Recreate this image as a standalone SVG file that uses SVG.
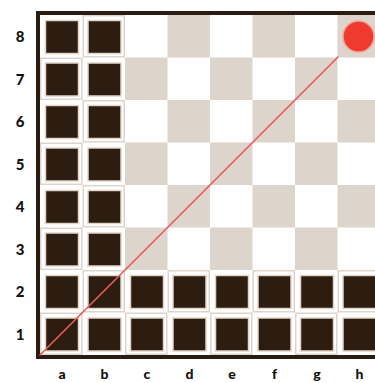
<svg xmlns="http://www.w3.org/2000/svg" xmlns:xlink="http://www.w3.org/1999/xlink" width="375" height="383" viewBox="0 0 375 383">
<style>
.pad{fill:#ffffff}
.pc{fill:#2d1c10;stroke:#e2d5c8;stroke-width:1.5}
.lbl{font-family:Lato,"DejaVu Sans",sans-serif;font-weight:900;font-size:15px;fill:#15110e;text-anchor:middle}
.flbl{font-family:Lato,"DejaVu Sans",sans-serif;font-weight:900;font-size:14px;fill:#15110e;text-anchor:middle}
</style>
<defs>
<pattern id="checker" patternUnits="userSpaceOnUse" x="40" y="15" width="85" height="85">
<rect x="0" y="0" width="85" height="85" fill="#ffffff"/>
<rect x="42.5" y="0" width="42.5" height="42.5" fill="#ddd4cb"/>
<rect x="0" y="42.5" width="42.5" height="42.5" fill="#ddd4cb"/>
</pattern>
<g id="pieceShape">
<rect class="pad" x="1.5" y="1.5" width="39.5" height="39.5"/>
<rect class="pc" x="5.5" y="5.5" width="33" height="33"/>
</g>
</defs>
<rect width="375" height="383" fill="#ffffff"/>
<g id="board">
<rect x="40" y="15" width="340" height="340" fill="url(#checker)"/>
<rect x="38" y="13" width="344" height="344" fill="none" stroke="#2a1c12" stroke-width="4"/>
</g>
<g id="pieces">
<g id="a8"><use xlink:href="#pieceShape" x="40" y="15"/></g>
<g id="a7"><use xlink:href="#pieceShape" x="40" y="57.5"/></g>
<g id="a6"><use xlink:href="#pieceShape" x="40" y="100"/></g>
<g id="a5"><use xlink:href="#pieceShape" x="40" y="142.5"/></g>
<g id="a4"><use xlink:href="#pieceShape" x="40" y="185"/></g>
<g id="a3"><use xlink:href="#pieceShape" x="40" y="227.5"/></g>
<g id="a2"><use xlink:href="#pieceShape" x="40" y="270"/></g>
<g id="a1"><use xlink:href="#pieceShape" x="40" y="312.5"/></g>
<g id="b8"><use xlink:href="#pieceShape" x="82.5" y="15"/></g>
<g id="b7"><use xlink:href="#pieceShape" x="82.5" y="57.5"/></g>
<g id="b6"><use xlink:href="#pieceShape" x="82.5" y="100"/></g>
<g id="b5"><use xlink:href="#pieceShape" x="82.5" y="142.5"/></g>
<g id="b4"><use xlink:href="#pieceShape" x="82.5" y="185"/></g>
<g id="b3"><use xlink:href="#pieceShape" x="82.5" y="227.5"/></g>
<g id="b2"><use xlink:href="#pieceShape" x="82.5" y="270"/></g>
<g id="b1"><use xlink:href="#pieceShape" x="82.5" y="312.5"/></g>
<g id="c2"><use xlink:href="#pieceShape" x="125" y="270"/></g>
<g id="c1"><use xlink:href="#pieceShape" x="125" y="312.5"/></g>
<g id="d2"><use xlink:href="#pieceShape" x="167.5" y="270"/></g>
<g id="d1"><use xlink:href="#pieceShape" x="167.5" y="312.5"/></g>
<g id="e2"><use xlink:href="#pieceShape" x="210" y="270"/></g>
<g id="e1"><use xlink:href="#pieceShape" x="210" y="312.5"/></g>
<g id="f2"><use xlink:href="#pieceShape" x="252.5" y="270"/></g>
<g id="f1"><use xlink:href="#pieceShape" x="252.5" y="312.5"/></g>
<g id="g2"><use xlink:href="#pieceShape" x="295" y="270"/></g>
<g id="g1"><use xlink:href="#pieceShape" x="295" y="312.5"/></g>
<g id="h2"><use xlink:href="#pieceShape" x="337.5" y="270"/></g>
<g id="h1"><use xlink:href="#pieceShape" x="337.5" y="312.5"/></g>
</g>
<g id="connectors">
<line x1="40" y1="355" x2="338" y2="57" stroke="#e95b5b" stroke-width="1.6" stroke-linecap="round"/>
</g>
<g id="target">
<circle cx="358.5" cy="36.5" r="15.5" fill="#ee3a2f" stroke="#f4a293" stroke-width="1.5"/>
</g>
<g id="rank-labels">
<text class="lbl" x="20" y="42">8</text>
<text class="lbl" x="20" y="84.5">7</text>
<text class="lbl" x="20" y="127">6</text>
<text class="lbl" x="20" y="169.5">5</text>
<text class="lbl" x="20" y="212">4</text>
<text class="lbl" x="20" y="254.5">3</text>
<text class="lbl" x="20" y="297">2</text>
<text class="lbl" x="20" y="339.5">1</text>
</g>
<g id="file-labels">
<text class="flbl" x="62" y="379">a</text>
<text class="flbl" x="104.5" y="379">b</text>
<text class="flbl" x="147" y="379">c</text>
<text class="flbl" x="189.5" y="379">d</text>
<text class="flbl" x="232" y="379">e</text>
<text class="flbl" x="274.5" y="379">f</text>
<text class="flbl" x="317" y="379">g</text>
<text class="flbl" x="359.5" y="379">h</text>
</g>
</svg>
